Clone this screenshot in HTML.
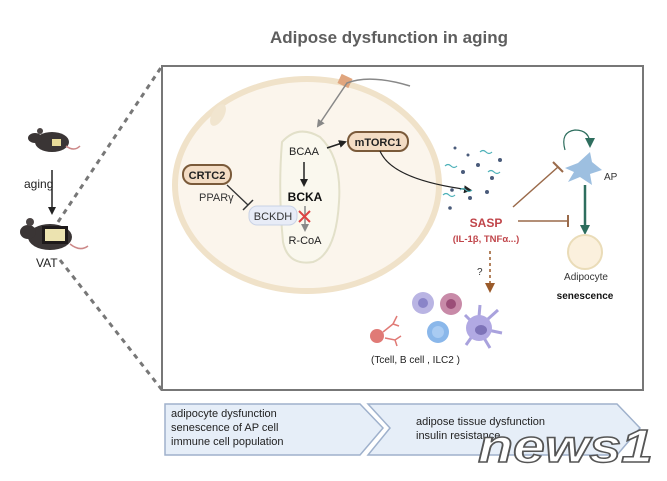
<!DOCTYPE html>
<html><head><meta charset="utf-8"><style>
body{margin:0;background:#fff;}
svg{display:block;font-family:"Liberation Sans",sans-serif;}
</style></head><body>
<svg width="667" height="481" viewBox="0 0 667 481" xmlns="http://www.w3.org/2000/svg">
<defs>
<marker id="ab" markerWidth="8" markerHeight="8" refX="6" refY="4" orient="auto" markerUnits="userSpaceOnUse"><path d="M0,0 L8,4 L0,8 Z" fill="#222"/></marker>
<marker id="ag" markerWidth="8" markerHeight="8" refX="6" refY="4" orient="auto" markerUnits="userSpaceOnUse"><path d="M0,0 L8,4 L0,8 Z" fill="#888"/></marker>
<marker id="at" markerWidth="10" markerHeight="10" refX="7" refY="5" orient="auto" markerUnits="userSpaceOnUse"><path d="M0,0 L10,5 L0,10 Z" fill="#2e6e5e"/></marker>
<marker id="abr" markerWidth="10" markerHeight="10" refX="7" refY="5" orient="auto" markerUnits="userSpaceOnUse"><path d="M0,0 L10,5 L0,10 Z" fill="#9a5a2a"/></marker>
</defs>
<text x="389" y="43" text-anchor="middle" font-size="17" font-weight="bold" fill="#5e5e5e">Adipose dysfunction in aging</text>
<line x1="58" y1="222" x2="162" y2="66" stroke="#777" stroke-width="3" stroke-dasharray="5,5"/>
<line x1="60" y1="260" x2="162" y2="390" stroke="#777" stroke-width="3" stroke-dasharray="5,5"/>
<g>
<ellipse cx="52" cy="142" rx="17" ry="10" fill="#3a3535"/>
<ellipse cx="35" cy="138" rx="7" ry="5" fill="#3a3535"/>
<circle cx="40" cy="131" r="3" fill="#4a4444"/>
<rect x="52" y="139" width="9" height="7" fill="#e8dc9a"/>
<path d="M66,146 Q74,152 80,146" stroke="#c88" fill="none" stroke-width="1.5"/>
</g>
<text x="24" y="188" font-size="12" fill="#222">aging</text>
<line x1="52" y1="170" x2="52" y2="213" stroke="#222" stroke-width="1.5" marker-end="url(#ab)"/>
<g>
<ellipse cx="50" cy="237" rx="22" ry="13" fill="#3a3535"/>
<ellipse cx="28" cy="232" rx="8" ry="7" fill="#3a3535"/>
<circle cx="30" cy="222" r="4" fill="#4a4444"/>
<rect x="42" y="226" width="26" height="18" fill="#1e1a1a"/>
<rect x="45" y="229" width="20" height="12" fill="#ece3b0"/>
<path d="M70,244 Q80,252 88,246" stroke="#c88" fill="none" stroke-width="1.5"/>
</g>
<text x="36" y="267" font-size="12" fill="#222">VAT</text>
<rect x="162" y="66" width="481" height="324" fill="#fff" stroke="#777" stroke-width="2"/>
<ellipse cx="307" cy="185" rx="132" ry="106" fill="#fbf5ec" stroke="#f0e2c9" stroke-width="6"/>
<ellipse cx="218" cy="115" rx="6" ry="12" fill="#f1e5cf" transform="rotate(30 218 115)"/>
<rect x="339" y="76" width="12" height="10" fill="#e0a57e" transform="rotate(25 345 81)"/>
<path d="M410,86 Q370,74 347,83 L318,126" stroke="#888" stroke-width="1.5" fill="none" marker-end="url(#ag)"/>
<path d="M282,142 Q298,124 320,137 Q342,158 339,202 Q336,254 313,262 Q288,266 283,242 Q278,190 282,142 Z" fill="#faf8ee" stroke="#e2e0c9" stroke-width="2"/>
<text x="304" y="155" text-anchor="middle" font-size="11" fill="#222">BCAA</text>
<line x1="304" y1="162" x2="304" y2="185" stroke="#222" stroke-width="1.5" marker-end="url(#ab)"/>
<text x="305" y="201" text-anchor="middle" font-size="12" font-weight="bold" fill="#111">BCKA</text>
<line x1="305" y1="206" x2="305" y2="230" stroke="#888" stroke-width="1.5" marker-end="url(#ag)"/>
<text x="305" y="244" text-anchor="middle" font-size="11" fill="#222">R-CoA</text>
<path d="M299,211 L310,222 M310,211 L299,222" stroke="#d44" stroke-width="2"/>
<rect x="249" y="206" width="48" height="19" rx="8" fill="#e8ecf7" stroke="#c9d2e6"/>
<text x="273" y="220" text-anchor="middle" font-size="11" fill="#333">BCKDH</text>
<rect x="183" y="165" width="48" height="19" rx="9" fill="#f3dcc4" stroke="#7a5a3a" stroke-width="2"/>
<text x="207" y="179" text-anchor="middle" font-size="11" font-weight="bold" fill="#222">CRTC2</text>
<text x="199" y="201" font-size="11" fill="#333">PPARγ</text>
<line x1="227" y1="185" x2="248" y2="205" stroke="#333" stroke-width="1.3"/>
<line x1="243" y1="210" x2="253" y2="200" stroke="#333" stroke-width="1.5"/>
<line x1="327" y1="148" x2="345" y2="142" stroke="#222" stroke-width="1.5" marker-end="url(#ab)"/>
<rect x="348" y="132" width="60" height="19" rx="9" fill="#f3dcc4" stroke="#7a5a3a" stroke-width="2"/>
<text x="378" y="146" text-anchor="middle" font-size="11" font-weight="bold" fill="#222">mTORC1</text>
<path d="M380,151 Q392,180 470,190" stroke="#222" stroke-width="1.2" fill="none" marker-end="url(#ab)"/>
<g fill="#4a5b7a">
<circle cx="455" cy="148" r="1.5"/><circle cx="468" cy="155" r="1.5"/><circle cx="500" cy="160" r="2"/><circle cx="463" cy="172" r="2"/><circle cx="478" cy="165" r="2"/><circle cx="492" cy="178" r="2"/><circle cx="452" cy="190" r="1.8"/><circle cx="470" cy="198" r="2"/><circle cx="450" cy="208" r="1.8"/><circle cx="487" cy="192" r="2"/>
</g>
<g stroke="#4bb0b8" stroke-width="1.2" fill="none">
<path d="M445,166 q3,-3 6,0 q3,3 6,0"/><path d="M480,152 q3,-3 6,0 q3,3 6,0"/><path d="M488,172 q3,-3 6,0 q3,3 6,0"/><path d="M443,195 q3,-3 6,0 q3,3 6,0"/><path d="M460,190 q3,-3 6,0 q3,3 6,0"/>
</g>
<text x="486" y="227" text-anchor="middle" font-size="12" font-weight="bold" fill="#c0454a">SASP</text>
<text x="486" y="242" text-anchor="middle" font-size="9.5" font-weight="bold" fill="#c0454a">(IL-1β, TNFα...)</text>
<line x1="513" y1="207" x2="558" y2="167" stroke="#9a6a4a" stroke-width="1.5"/>
<line x1="553" y1="162" x2="563" y2="172" stroke="#9a6a4a" stroke-width="2"/>
<line x1="518" y1="221" x2="568" y2="221" stroke="#9a6a4a" stroke-width="1.5"/>
<line x1="568" y1="215" x2="568" y2="227" stroke="#9a6a4a" stroke-width="2"/>
<line x1="490" y1="251" x2="490" y2="290" stroke="#9a5a2a" stroke-width="1.5" stroke-dasharray="3,3" marker-end="url(#abr)"/>
<text x="477" y="275" font-size="10" fill="#333">?</text>
<path d="M565,150 Q560,132 575,130 Q590,130 590,145" stroke="#2e6e5e" stroke-width="1.2" fill="none" marker-end="url(#at)"/>
<path d="M565,168 L578,163 L590,152 L592,162 L602,170 L590,174 L592,185 L580,177 L568,182 L574,172 Z" fill="#9dbfe0"/>
<text x="604" y="180" font-size="10" fill="#333">AP</text>
<line x1="585" y1="185" x2="585" y2="232" stroke="#2e6e5e" stroke-width="2.5" marker-end="url(#at)"/>
<circle cx="585" cy="252" r="17" fill="#fbf0dd" stroke="#eadcb8" stroke-width="2"/>
<text x="586" y="280" text-anchor="middle" font-size="10" fill="#333">Adipocyte</text>
<text x="585" y="299" text-anchor="middle" font-size="10" font-weight="bold" fill="#111">senescence</text>
<circle cx="423" cy="303" r="11" fill="#b9b4e3"/><circle cx="423" cy="303" r="5" fill="#8a84c8"/>
<circle cx="451" cy="304" r="11" fill="#c88aa8"/><circle cx="451" cy="304" r="5" fill="#9b4e78"/>
<circle cx="438" cy="332" r="11" fill="#8ab7ea"/><circle cx="438" cy="332" r="6" fill="#a9cbf2"/>
<g stroke="#a9a2dd" stroke-width="3"><line x1="478" y1="328" x2="465" y2="315"/><line x1="478" y1="328" x2="480" y2="305"/><line x1="478" y1="328" x2="498" y2="310"/><line x1="478" y1="328" x2="502" y2="333"/><line x1="478" y1="328" x2="490" y2="348"/><line x1="478" y1="328" x2="466" y2="345"/></g>
<circle cx="479" cy="328" r="13" fill="#b1a9e3"/><ellipse cx="481" cy="330" rx="6" ry="5" fill="#7d73b8"/>
<circle cx="377" cy="336" r="7" fill="#e07a76"/>
<path d="M383,332 l10,-8 l4,-8 M393,324 l6,2 M385,338 l10,2 l6,-4 M395,340 l2,6" stroke="#e07a76" stroke-width="1.5" fill="none"/>
<text x="371" y="363" font-size="10" fill="#222">(Tcell, B cell , ILC2 )</text>
<path d="M165,404 L360,404 L383,428 L360,455 L165,455 Z" fill="#e6eef8" stroke="#9fb1cc" stroke-width="1.5"/>
<path d="M368,404 L617,404 L640,428 L617,455 L368,455 L390,428 Z" fill="#e6eef8" stroke="#9fb1cc" stroke-width="1.5"/>
<text font-size="11" fill="#222"><tspan x="171" y="417">adipocyte dysfunction</tspan><tspan x="171" y="431">senescence of AP cell</tspan><tspan x="171" y="445">immune cell population</tspan></text>
<text font-size="11" fill="#222"><tspan x="416" y="425">adipose tissue dysfunction</tspan><tspan x="416" y="439">insulin resistance</tspan></text>
<text x="478" y="462" font-size="46" font-style="italic" font-weight="bold" fill="#fff" stroke="#555" stroke-width="1.5" textLength="175" lengthAdjust="spacingAndGlyphs">news1</text>
</svg>
</body></html>
